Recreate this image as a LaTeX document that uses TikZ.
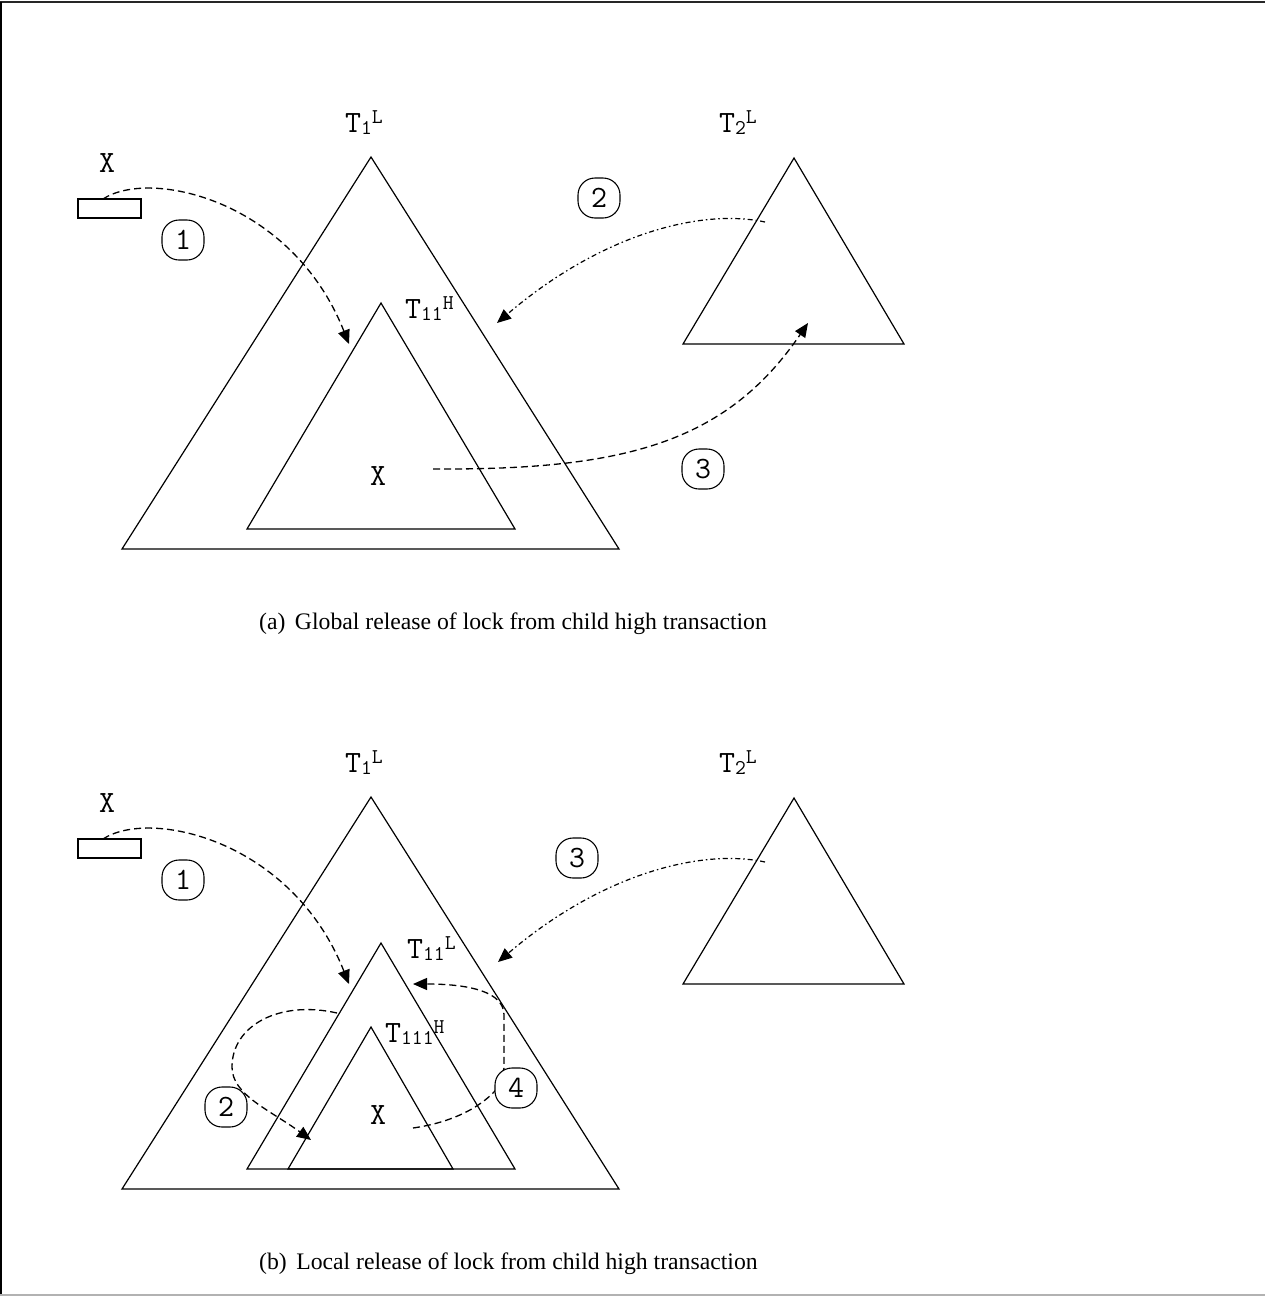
\documentclass[tikz,border=0pt]{standalone}
\usepackage{fontspec}
\setmainfont{Liberation Serif}
\usetikzlibrary{arrows.meta}
\newcommand{\bigmono}{\ttfamily\fontsize{31}{33}\selectfont}
\newcommand{\smmono}{\ttfamily\fontsize{21}{23}\selectfont}
\newcommand{\tlab}[3]{{\bigmono T}{\smmono\raisebox{-2pt}{#1}\raisebox{#3}{#2}}}
\tikzset{
  tri/.style={line width=1.2pt, line join=miter},
  conn/.style={line width=1.3pt, dash pattern=on 7pt off 4pt, -{Triangle[length=14pt,width=12pt]}},
  connd/.style={line width=1.2pt, dash pattern=on 5pt off 3pt on 1.5pt off 3pt, -{Triangle[length=14pt,width=12pt]}},
  num/.style={draw, line width=1.1pt, rounded corners=17pt, minimum width=42pt, minimum height=40pt, fill=white, inner sep=0pt, font=\bigmono},
  lbl/.style={inner sep=0pt, anchor=base west},
  xl/.style={inner sep=0pt, font=\bigmono},
  captext/.style={inner sep=0pt, anchor=base west, font=\fontsize{23.7}{26}\selectfont}
}
\begin{document}
\begin{tikzpicture}[x=1pt,y=-1pt]
\useasboundingbox (0,0) rectangle (1265,1296);
% frame
\draw[line width=2pt, black!85] (0,2) -- (1265,2);
\draw[line width=2pt, black] (1,2) -- (1,1296);
\draw[line width=2pt, black!30] (0,1295) -- (1265,1295);

% ================= (a) =================
\draw[tri] (371,157) -- (619,549) -- (122,549) -- cycle;
\draw[tri] (381,303) -- (515,529) -- (247,529) -- cycle;
\draw[tri] (794,158) -- (904,344) -- (683,344) -- cycle;
\draw[tri] (78,199) rectangle (141,218);

\node[lbl] (t1a) at (345,132) {\tlab{1}{L}{9pt}};
\node[lbl] (t2a) at (719,132) {\tlab{2}{L}{9pt}};
\node[lbl] (t11a) at (405,318) {\tlab{11}{H}{9pt}};
\node[xl] (xa) at (107,163) {X};
\node[xl] (xia) at (378,476) {X};

\coordinate (a1s) at (103,199);
\coordinate (a1e) at (349,344);
\coordinate (a2s) at (765,222);
\coordinate (a2e) at (497,323);
\coordinate (a3s) at (433,469);
\coordinate (a3e) at (808,323);

\draw[conn] (a1s) .. controls (150,168) and (292,200) .. (a1e);
\draw[connd] (a2s) .. controls (700,208) and (600,235) .. (a2e);
\draw[conn] (a3s) .. controls (620,470) and (725,445) .. (a3e);

\node[num] (c1a) at (183,240) {1};
\node[num] (c2a) at (599,198) {2};
\node[num] (c3a) at (703,469) {3};

\node[captext] (capa) at (259,629) {(a)\hspace{0.4em}Global release of lock from child high transaction};

% ================= (b) =================
\draw[tri] (371,797) -- (619,1189) -- (122,1189) -- cycle;
\draw[tri] (381,943) -- (515,1169) -- (247,1169) -- cycle;
\draw[tri] (371,1027) -- (453,1169) -- (288,1169) -- cycle;
\draw[tri] (794,798) -- (904,984) -- (683,984) -- cycle;
\draw[tri] (78,839) rectangle (141,858);

\node[lbl] (t1b) at (345,772) {\tlab{1}{L}{9pt}};
\node[lbl] (t2b) at (719,772) {\tlab{2}{L}{9pt}};
\node[lbl] (t11b) at (407,958) {\tlab{11}{L}{9pt}};
\node[lbl] (t111b) at (385,1042) {\tlab{111}{H}{9pt}};
\node[xl] (xb) at (107,803) {X};
\node[xl] (xib) at (378,1115) {X};

\coordinate (b1s) at (103,839);
\coordinate (b1e) at (349,984);
\coordinate (b3s) at (765,862);
\coordinate (b3e) at (498,962);
\coordinate (b2s) at (337,1013);
\coordinate (b2m) at (232,1067);
\coordinate (b2e) at (311,1140);
\coordinate (b4s) at (413,1128);
\coordinate (b4e) at (413,984);

\draw[conn] (b1s) .. controls (150,808) and (292,840) .. (b1e);
\draw[connd] (b3s) .. controls (700,848) and (600,875) .. (b3e);
\draw[conn] (b2s) .. controls (280,1000) and (232,1025) .. (b2m)
             .. controls (232,1095) and (270,1110) .. (b2e);
\draw[conn] (b4s) .. controls (455,1122) and (485,1105) .. (500,1085) -- (504,1068)
             -- (504,1015) .. controls (504,992) and (470,984) .. (b4e);

\node[num] (c1b) at (183,880) {1};
\node[num] (c3b) at (577,858) {3};
\node[num] (c2b) at (226,1107) {2};
\node[num] (c4b) at (516,1088) {4};

\node[captext] (capb) at (259,1269) {(b)\hspace{0.4em}Local release of lock from child high transaction};
\end{tikzpicture}
\end{document}
